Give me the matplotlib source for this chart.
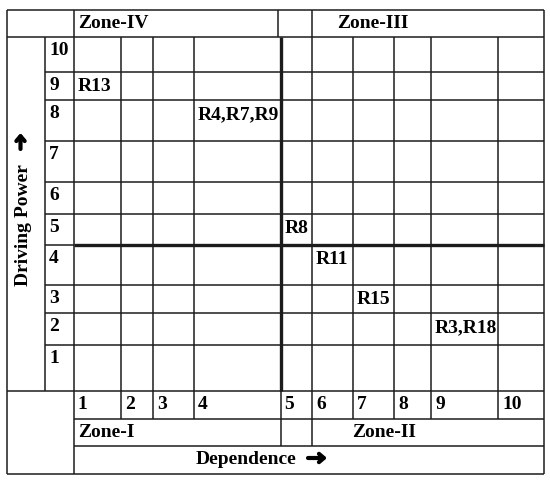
import matplotlib
matplotlib.use("Agg")
import matplotlib.pyplot as plt

# ---------------- data ----------------
dependence_vals = [1, 2, 3, 4, 5, 6, 7, 8, 9, 10]
driving_vals = [10, 9, 8, 7, 6, 5, 4, 3, 2, 1]
factor_labels = ["R13", "R4,R7,R9", "R8", "R11", "R15", "R3,R18"]
factor_dep = [1, 4, 5, 6, 7, 9]
factor_drv = [9, 8, 5, 4, 3, 2]
zone_top = ["Zone-IV", "Zone-III"]
zone_bottom = ["Zone-I", "Zone-II"]
x_title = "Dependence"
y_title = "Driving Power"

# ---------------- layout (pixel grid) ----------------
W, H = 550, 483
left, right, top, bottom = 7, 544, 10, 474
ylab_r = 45          # right edge of y-title column
num_r = 73.5         # right edge of number column
head_b = 37          # bottom of header row
col_edges = [73.5, 121, 153, 193.5, 280.5, 312, 353, 394, 431, 498, 544]
row_edges = [37, 72, 100, 141, 182, 214, 245, 285, 313, 345, 391]
num_row_b = 419
zone_row_b = 446

fig = plt.figure(figsize=(W / 100, H / 100), dpi=100)
ax = fig.add_axes([0, 0, 1, 1])
ax.set_xlim(0, W)
ax.set_ylim(H, 0)
ax.axis("off")

lc = "#1c1c1c"
thin = 1.1
thick = 2.4

def hl(y, x0, x1, lw=thin):
    ax.plot([x0, x1], [y, y], color=lc, lw=lw, solid_capstyle="butt")

def vl(x, y0, y1, lw=thin):
    ax.plot([x, x], [y0, y1], color=lc, lw=lw, solid_capstyle="butt")

# outer border
hl(top, left, right); hl(bottom, left, right)
vl(left, top, bottom); vl(right, top, bottom)

# header
hl(head_b, left, right)
vl(num_r, top, bottom)
vl(278, top, head_b)
vl(col_edges[5], top, head_b)

# y-title column
vl(ylab_r, head_b, row_edges[-1])

# row lines
mid_row = row_edges[6]
for y in row_edges[1:-1]:
    if y == mid_row:
        hl(y, ylab_r, num_r)
        hl(y, num_r, right, thick)
    else:
        hl(y, ylab_r, right)
hl(row_edges[-1], left, right)
hl(num_row_b, num_r, right)
hl(zone_row_b, num_r, right)

# column lines
mid_col = col_edges[4]
for x in col_edges[1:-1]:
    if x == mid_col:
        vl(x, head_b, row_edges[-1], thick)
        vl(x, row_edges[-1], zone_row_b)
    else:
        vl(x, head_b, num_row_b)
vl(col_edges[5], num_row_b, zone_row_b)

fam = ["Liberation Serif", "DejaVu Sans"]
fs = 14
tkw = dict(family=fam, fontsize=fs, fontweight="bold", color="black")

# driving power numbers
for i, v in enumerate(driving_vals):
    ax.text(ylab_r + 4, row_edges[i] + 5, str(v), ha="left", va="top", **tkw)

# dependence numbers
for i, v in enumerate(dependence_vals):
    ax.text(col_edges[i] + 4, row_edges[-1] + 5, str(v), ha="left", va="top", **tkw)

# factors
for lab, d, p in zip(factor_labels, factor_dep, factor_drv):
    ci = dependence_vals.index(d)
    ri = driving_vals.index(p)
    ax.text(col_edges[ci] + 4, row_edges[ri] + 6, lab, ha="left", va="top", **tkw)

# zones
ax.text(78, (top + head_b) / 2, zone_top[0], ha="left", va="center", **tkw)
ax.text(337, (top + head_b) / 2, zone_top[1], ha="left", va="center", **tkw)
ax.text(78, (num_row_b + zone_row_b) / 2, zone_bottom[0], ha="left", va="center", **tkw)
ax.text(352, (num_row_b + zone_row_b) / 2, zone_bottom[1], ha="left", va="center", **tkw)

# axis titles
ax.text(196, (zone_row_b + bottom) / 2, x_title, ha="left", va="center", **tkw)
ax.text(24, 225, y_title, ha="center", va="center", rotation=90, **tkw)

# heavy arrows following the titles
akw = dict(arrowstyle="->,head_length=0.35,head_width=0.3", lw=3.0,
           color="black", shrinkA=0, shrinkB=0)
ax.annotate("", xy=(327, 458), xytext=(308, 458), arrowprops=akw)
ax.annotate("", xy=(20.5, 133), xytext=(20.5, 149), arrowprops=akw)

fig.savefig("out.png", dpi=100)
